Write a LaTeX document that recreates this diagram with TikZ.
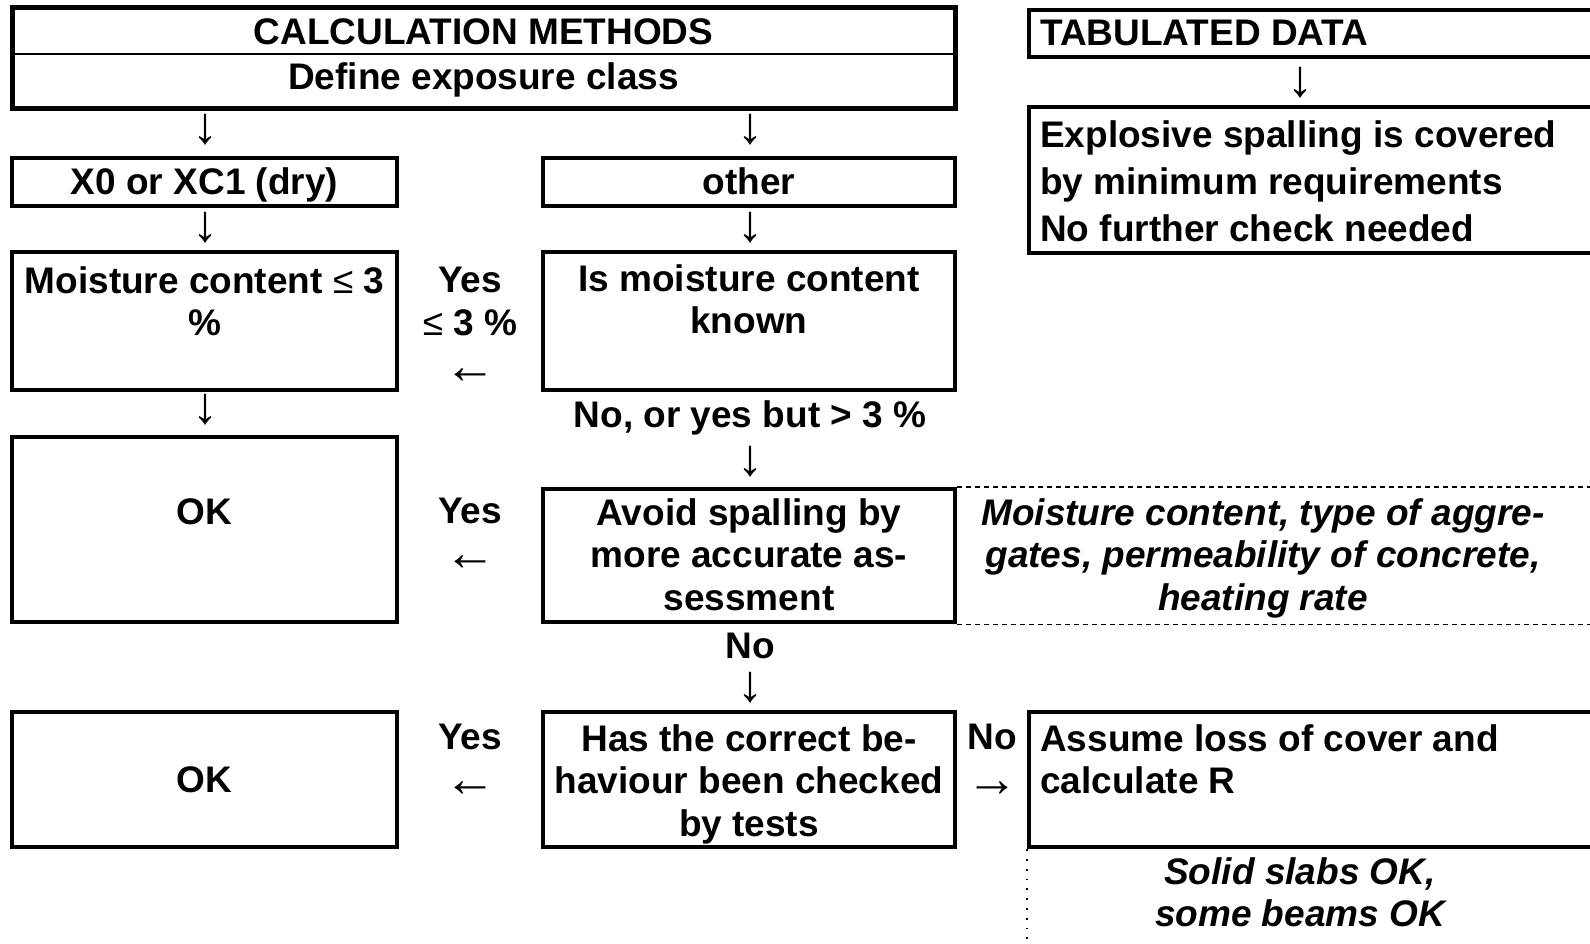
\documentclass[tikz,border=0pt]{standalone}
\usepackage{fontspec}
\setmainfont{Liberation Sans}
\newcommand{\leqsym}{{\mdseries ≤}}
\newcommand{\arrowsym}[1]{{\fontsize{52}{46}\mdseries\selectfont #1}}
\begin{document}
\begin{tikzpicture}
[x=1pt,y=-1pt,
  boxdecorate/.style={shape=rectangle,draw,line width=4.5pt,inner sep=0pt},%
  textdecorate/.style={inner sep=0pt,font=\fontsize{37}{42.5}\bfseries\selectfont,align=center},%
  arrowdecorate/.style={inner sep=0pt,font=\fontsize{52}{52}\mdseries\selectfont}]
\clip (0,0) rectangle (1590,944);
% boxes
\node (calc) at (483.5,58.5) [boxdecorate,line width=5pt,minimum width=943pt,minimum height=101pt] {};
\coordinate (sep) at (0,54);
\draw[line width=1.5pt] (calc.west |- sep) -- (calc.east |- sep);
\node (tab) at (1319.5,33.5) [boxdecorate,minimum width=581pt,minimum height=47pt] {};
\node (expl) at (1319.5,180) [boxdecorate,minimum width=581pt,minimum height=146pt] {};
\node (x0) at (204.5,182) [boxdecorate,minimum width=385pt,minimum height=48pt] {};
\node (other) at (749,182) [boxdecorate,minimum width=412pt,minimum height=48pt] {};
\node (mc) at (204.5,321) [boxdecorate,minimum width=385pt,minimum height=138pt] {};
\node (known) at (749,321) [boxdecorate,minimum width=412pt,minimum height=138pt] {};
\node (ok1) at (204.5,529.5) [boxdecorate,minimum width=385pt,minimum height=185pt] {};
\node (avoid) at (749,555.5) [boxdecorate,minimum width=412pt,minimum height=133pt] {};
\node (ok2) at (204.5,779.5) [boxdecorate,minimum width=385pt,minimum height=135pt] {};
\node (tests) at (749,779.5) [boxdecorate,minimum width=412pt,minimum height=135pt] {};
\node (assume) at (1319.5,779.5) [boxdecorate,minimum width=581pt,minimum height=135pt] {};
\coordinate (edge) at (1600,944);
\draw[line width=1.5pt,dash pattern=on 5pt off 4pt] (avoid.north east) -- (avoid.north east -| edge);
\draw[line width=1.5pt,dash pattern=on 5pt off 4pt] (avoid.south east) -- (avoid.south east -| edge);
\draw[line width=1.8pt,dash pattern=on 1.8pt off 8pt] (assume.south west) -- (assume.south west |- edge);
% texts
\node [textdecorate,anchor=base] at (483.5,45) {CALCULATION METHODS};
\node [textdecorate,anchor=base] at (483.5,90) {Define exposure class};
\node [textdecorate,anchor=base west] at (1040,46) {TABULATED DATA};
\node [textdecorate,anchor=north west,align=left,font=\fontsize{37}{47}\bfseries\selectfont] at (1040,120) {Explosive spalling is covered\\by minimum requirements\\No further check needed};
\node [textdecorate,anchor=base] at (204.5,195) {X0 or XC1 (dry)};
\node [textdecorate,anchor=base] at (749,195) {other};
\node [textdecorate,anchor=north] at (204.5,266) {Moisture content \leqsym{} 3\\\%};
\node [textdecorate,anchor=north] at (749,264) {Is moisture content\\known};
\node [textdecorate,anchor=north] at (470,267) {Yes\\\leqsym{} 3 \%\\[6pt]\arrowsym{←}};
\node [textdecorate,anchor=base] at (750,427) {No, or yes but > 3 \%};
\node [textdecorate,anchor=base] at (204.5,524) {OK};
\node [textdecorate,anchor=north] at (749,498) {Avoid spalling by\\more accurate as-\\sessment};
\node [textdecorate,anchor=north] at (470,498) {Yes\\[4pt]\arrowsym{←}};
\node [textdecorate,anchor=north,font=\fontsize{37}{42.5}\bfseries\itshape\selectfont] at (1263,498) {Moisture content, type of aggre-\\gates, permeability of concrete,\\heating rate};
\node [textdecorate,anchor=base] at (750,658) {No};
\node [textdecorate,anchor=base] at (204.5,792) {OK};
\node [textdecorate,anchor=north] at (749,724) {Has the correct be-\\haviour been checked\\by tests};
\node [textdecorate,anchor=north] at (470,724) {Yes\\[4pt]\arrowsym{←}};
\node [textdecorate,anchor=north] at (992,724) {No\\[4pt]\arrowsym{→}};
\node [textdecorate,anchor=north west,align=left] at (1040,724) {Assume loss of cover and\\calculate R};
\node [textdecorate,anchor=north,font=\fontsize{37}{42.5}\bfseries\itshape\selectfont] at (1300,857) {Solid slabs OK,\\some beams OK};
% arrows
\node [arrowdecorate] at (1300,83) {↓};
\node [arrowdecorate] at (205,130) {↓};
\node [arrowdecorate] at (750,130) {↓};
\node [arrowdecorate] at (205,228) {↓};
\node [arrowdecorate] at (750,228) {↓};
\node [arrowdecorate] at (205,410) {↓};
\node [arrowdecorate] at (750,462) {↓};
\node [arrowdecorate] at (750,688) {↓};
\end{tikzpicture}
\end{document}
